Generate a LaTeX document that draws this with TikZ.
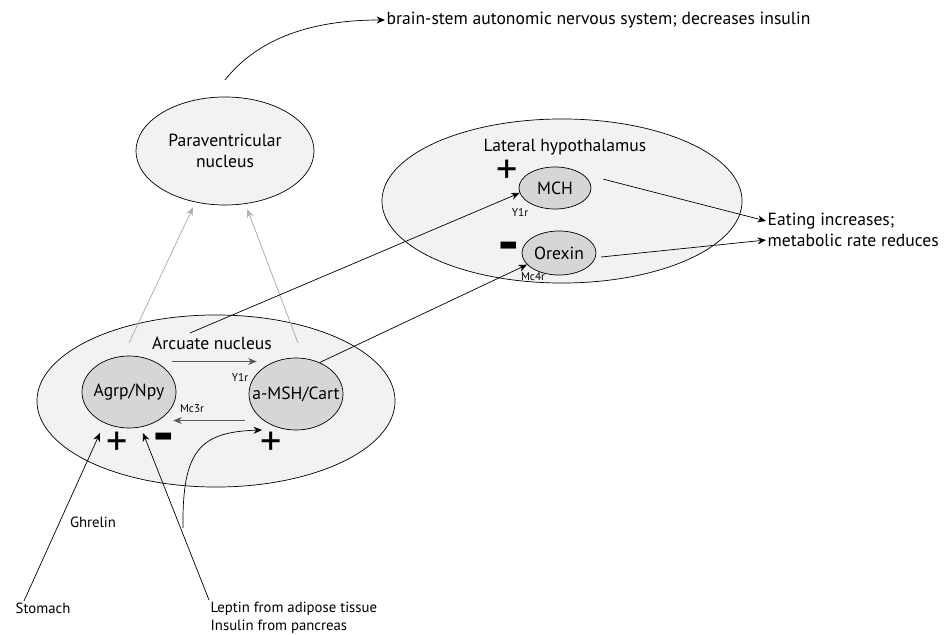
\documentclass[tikz,border=0pt]{standalone}
\usepackage{fontspec}
\usepackage{graphicx}
\setmainfont{PT Sans}
\usetikzlibrary{shapes.geometric,arrows.meta,positioning}

\begin{document}
\begin{tikzpicture}[
    x=0.025cm, y=-0.025cm,
    region/.style={ellipse, draw, fill=black!5, line width=0.5pt, inner sep=0pt},
    cell/.style={ellipse, draw, fill=black!16, line width=0.5pt, inner sep=0pt,
        label={[lbl]center:#1}},
    lbl/.style={inner sep=1pt, font=\fontsize{12.5}{15}\selectfont},
    note/.style={inner sep=1pt, font=\fontsize{10.5}{12.8}\selectfont, align=left},
    rcpt/.style={inner sep=0pt, font=\fontsize{8}{9}\selectfont},
    possign/.style={inner sep=0pt, font=\fontsize{30}{30}\selectfont},
    negsign/.style={inner sep=0pt, font=\fontsize{20}{20}\selectfont\bfseries},
    link/.style={-{Stealth[length=6pt,width=5pt]}, line width=0.5pt},
    proj/.style={link, draw=black!30, line width=0.6pt},
    relay/.style={link, draw=black!65, line width=0.6pt}
]
\useasboundingbox (0,0) rectangle (946,635);

% regions
\node[region, lbl, minimum width=4.45cm, minimum height=2.7cm, align=center] (pvn) at (225,151) {Paraventricular\\nucleus};
\node[region, minimum width=9cm, minimum height=4.1cm] (lat) at (562,201) {};
\node[lbl] (latlab) at (565,147) {Lateral hypothalamus};
\node[region, minimum width=8.95cm, minimum height=4.3cm] (arc) at (216,401) {};
\node[lbl] (arclab) at (212,343) {Arcuate nucleus};

% cell groups
\node[cell=MCH, minimum width=1.8cm, minimum height=1.05cm] (mch) at (555,188) {};
\node[cell=Orexin, minimum width=1.85cm, minimum height=1.1cm] (orx) at (559,253) {};
\node[cell=Agrp/Npy, minimum width=2.35cm, minimum height=1.8cm] (agrp) at (129,392) {};
\node[cell=a-MSH/Cart, minimum width=2.35cm, minimum height=1.8cm] (msh) at (296,394) {};

% outside labels
\node[lbl, anchor=west] (bs) at (385,20) {brain-stem autonomic nervous system; decreases insulin};
\node[lbl, anchor=west] (eat1) at (766,221) {Eating increases;};
\node[lbl, anchor=west] (eat2) at (766,240) {metabolic rate reduces};
\node[note] (stm) at (43,608) {Stomach};
\node[note] (ghr) at (93,522) {Ghrelin};
\node[note, anchor=north west] (lep) at (209,600) {Leptin from adipose tissue\\Insulin from pancreas};

% receptors and signs
\node[rcpt] (y1a) at (240,377) {Y1r};
\node[rcpt] (mc3) at (192,409) {Mc3r};
\node[rcpt] (y1b) at (520,212) {Y1r};
\node[rcpt] (mc4) at (533,277) {Mc4r};
\node[possign] (pa) at (117,444) {+};
\node[negsign] (na) at (164,445) {\scalebox{1.25}[2.2]{−}};
\node[possign] (pb) at (271,444) {+};
\node[possign] (pc) at (507,172) {+};
\node[negsign] (nb) at (509,254) {\scalebox{1.25}[2.2]{−}};

% connectors
\coordinate (pvnout) at (225,80);
\coordinate (g1) at (129,343);
\coordinate (g2) at (298,343);
\coordinate (arcout) at (190,333);
\coordinate (ghrin) at (100,433);
\coordinate (lepin) at (143,433);
\coordinate (inslow) at (183,528);
\coordinate (insin) at (262,430);

\draw[link] (pvnout) .. controls (255,42) and (305,20) .. (bs.west);
\draw[proj, shorten >=4pt] (g1) -- (pvn.240);
\draw[proj, shorten >=4pt] (g2) -- (pvn.291);
\draw[link] (arcout) -- (mch.188);
\draw[link] (msh.53) -- (orx.200);
\draw[link] ([xshift=0.3cm,yshift=0.22cm]mch.east) -- (eat1.west);
\draw[link] ([xshift=0.12cm,yshift=-0.1cm]orx.east) -- (eat2.west);
\draw[relay] ([shift={(8,-6)}]agrp.35) -- ([shift={(8,-6)}]agrp.35 -| msh.west);
\draw[relay] ([shift={(-16,2)}]msh.215) -- ([shift={(-3,2)}]msh.215 -| agrp.east);
\draw[link] ([xshift=0.25cm]stm.north west) -- (ghrin);
\draw[link] (lep.north west) -- (lepin);
\draw[link] (inslow) .. controls (182,450) and (200,432) .. (insin);
\end{tikzpicture}
\end{document}
